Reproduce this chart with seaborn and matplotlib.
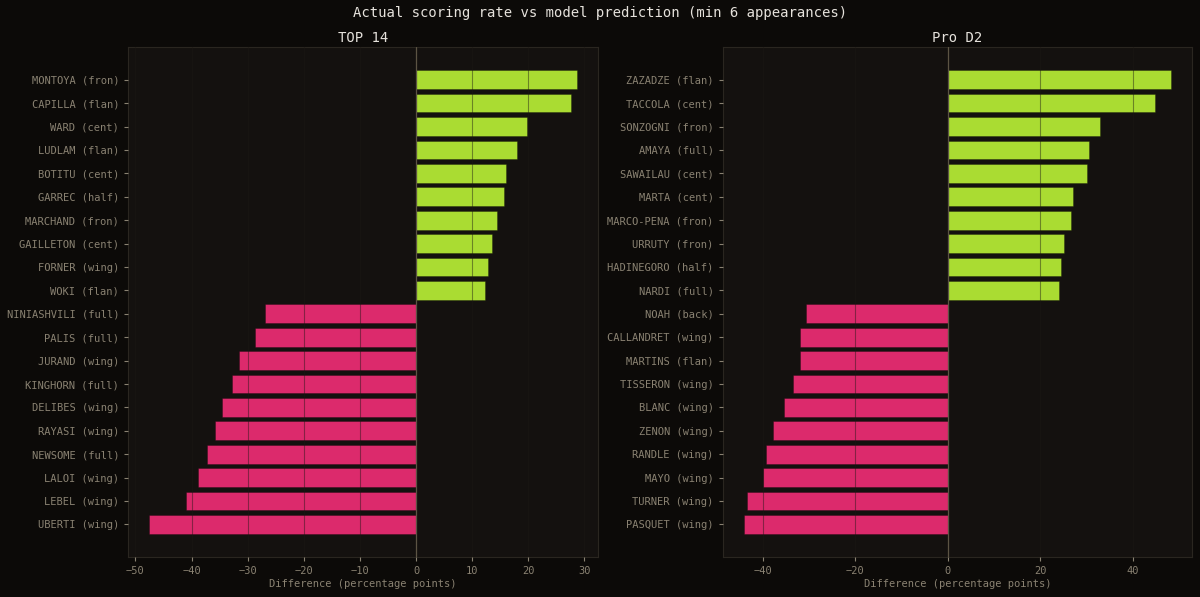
import matplotlib
matplotlib.use("Agg")
import matplotlib.pyplot as plt
import seaborn as sns
import pandas as pd
import numpy as np

top14_players = ["MONTOYA (fron)", "CAPILLA (flan)", "WARD (cent)", "LUDLAM (flan)", "BOTITU (cent)",
                 "GARREC (half)", "MARCHAND (fron)", "GAILLETON (cent)", "FORNER (wing)", "WOKI (flan)",
                 "NINIASHVILI (full)", "PALIS (full)", "JURAND (wing)", "KINGHORN (full)", "DELIBES (wing)",
                 "RAYASI (wing)", "NEWSOME (full)", "LALOI (wing)", "LEBEL (wing)", "UBERTI (wing)"]
top14_diff = [28.6, 27.6, 19.8, 17.9, 16.1, 15.6, 14.5, 13.6, 12.9, 12.3,
              -26.9, -28.7, -31.5, -32.7, -34.5, -35.8, -37.2, -38.8, -40.9, -47.5]

prod2_players = ["ZAZADZE (flan)", "TACCOLA (cent)", "SONZOGNI (fron)", "AMAYA (full)", "SAWAILAU (cent)",
                 "MARTA (cent)", "MARCO-PENA (fron)", "URRUTY (fron)", "HADINEGORO (half)", "NARDI (full)",
                 "NOAH (back)", "CALLANDRET (wing)", "MARTINS (flan)", "TISSERON (wing)", "BLANC (wing)",
                 "ZENON (wing)", "RANDLE (wing)", "MAYO (wing)", "TURNER (wing)", "PASQUET (wing)"]
prod2_diff = [48.1, 44.8, 32.9, 30.5, 30.1, 27.1, 26.5, 25.0, 24.5, 24.1,
              -30.6, -31.9, -31.8, -33.4, -35.3, -37.8, -39.2, -39.9, -43.4, -44.0]

panel_titles = ["TOP 14", "Pro D2"]

FIG_BG = "#0c0a08"
AX_BG = "#14110f"
GREEN = "#aadc32"
PINK = "#dc2a6c"
TICK_C = "#8a8272"
TITLE_C = "#e6e2dc"

sns.set_theme(style="dark")
plt.rcParams["font.family"] = ["DejaVu Sans Mono", "DejaVu Sans"]

fig = plt.figure(figsize=(12, 5.97), dpi=100, facecolor=FIG_BG)
axes = [fig.add_axes([0.1067, 0.067, 0.3916, 0.854]),
        fig.add_axes([0.6022, 0.067, 0.3911, 0.854])]

for ax, players, diffs, title in zip(axes, [top14_players, prod2_players],
                                     [top14_diff, prod2_diff], panel_titles):
    df = pd.DataFrame({"player": players, "diff": diffs})
    df["sign"] = np.where(df["diff"] >= 0, "pos", "neg")
    ax.set_facecolor(AX_BG)
    sns.barplot(data=df, x="diff", y="player", hue="sign", palette={"pos": GREEN, "neg": PINK},
                orient="h", width=0.8, legend=False, ax=ax, dodge=False, saturation=1,
                edgecolor=(0, 0, 0, 0.3), linewidth=0.6, zorder=2)
    n = len(players)
    lo, hi = min(diffs), max(diffs)
    span = hi - lo
    ax.set_xlim(lo - 0.05 * span, hi + 0.05 * span)
    ax.set_ylim(n - 1 + 0.4 + 0.05 * (n - 0.2), -0.4 - 0.05 * (n - 0.2))
    ax.grid(axis="x", color="#1c1814", alpha=0.45, linewidth=0.8, zorder=3)
    ax.grid(axis="y", visible=False)
    ax.set_axisbelow(False)
    ax.axvline(0, color="#5c5444", linewidth=0.9, zorder=4)
    for s in ax.spines.values():
        s.set_visible(True)
        s.set_color("#2a2620")
        s.set_linewidth(0.8)
    ax.tick_params(axis="both", colors=TICK_C, labelsize=7.5, length=3, width=0.8,
                   left=True, bottom=True)
    for lab in ax.get_xticklabels() + ax.get_yticklabels():
        lab.set_color(TICK_C)
    ax.set_ylabel("")
    ax.set_xlabel("Difference (percentage points)", color=TICK_C, fontsize=7.5, labelpad=2)
    ax.set_title(title, color=TITLE_C, fontsize=10, pad=4)

fig.suptitle("Actual scoring rate vs model prediction (min 6 appearances)",
             color=TITLE_C, fontsize=10, y=0.99)

fig.savefig("out.png", dpi=100, facecolor=FIG_BG)
